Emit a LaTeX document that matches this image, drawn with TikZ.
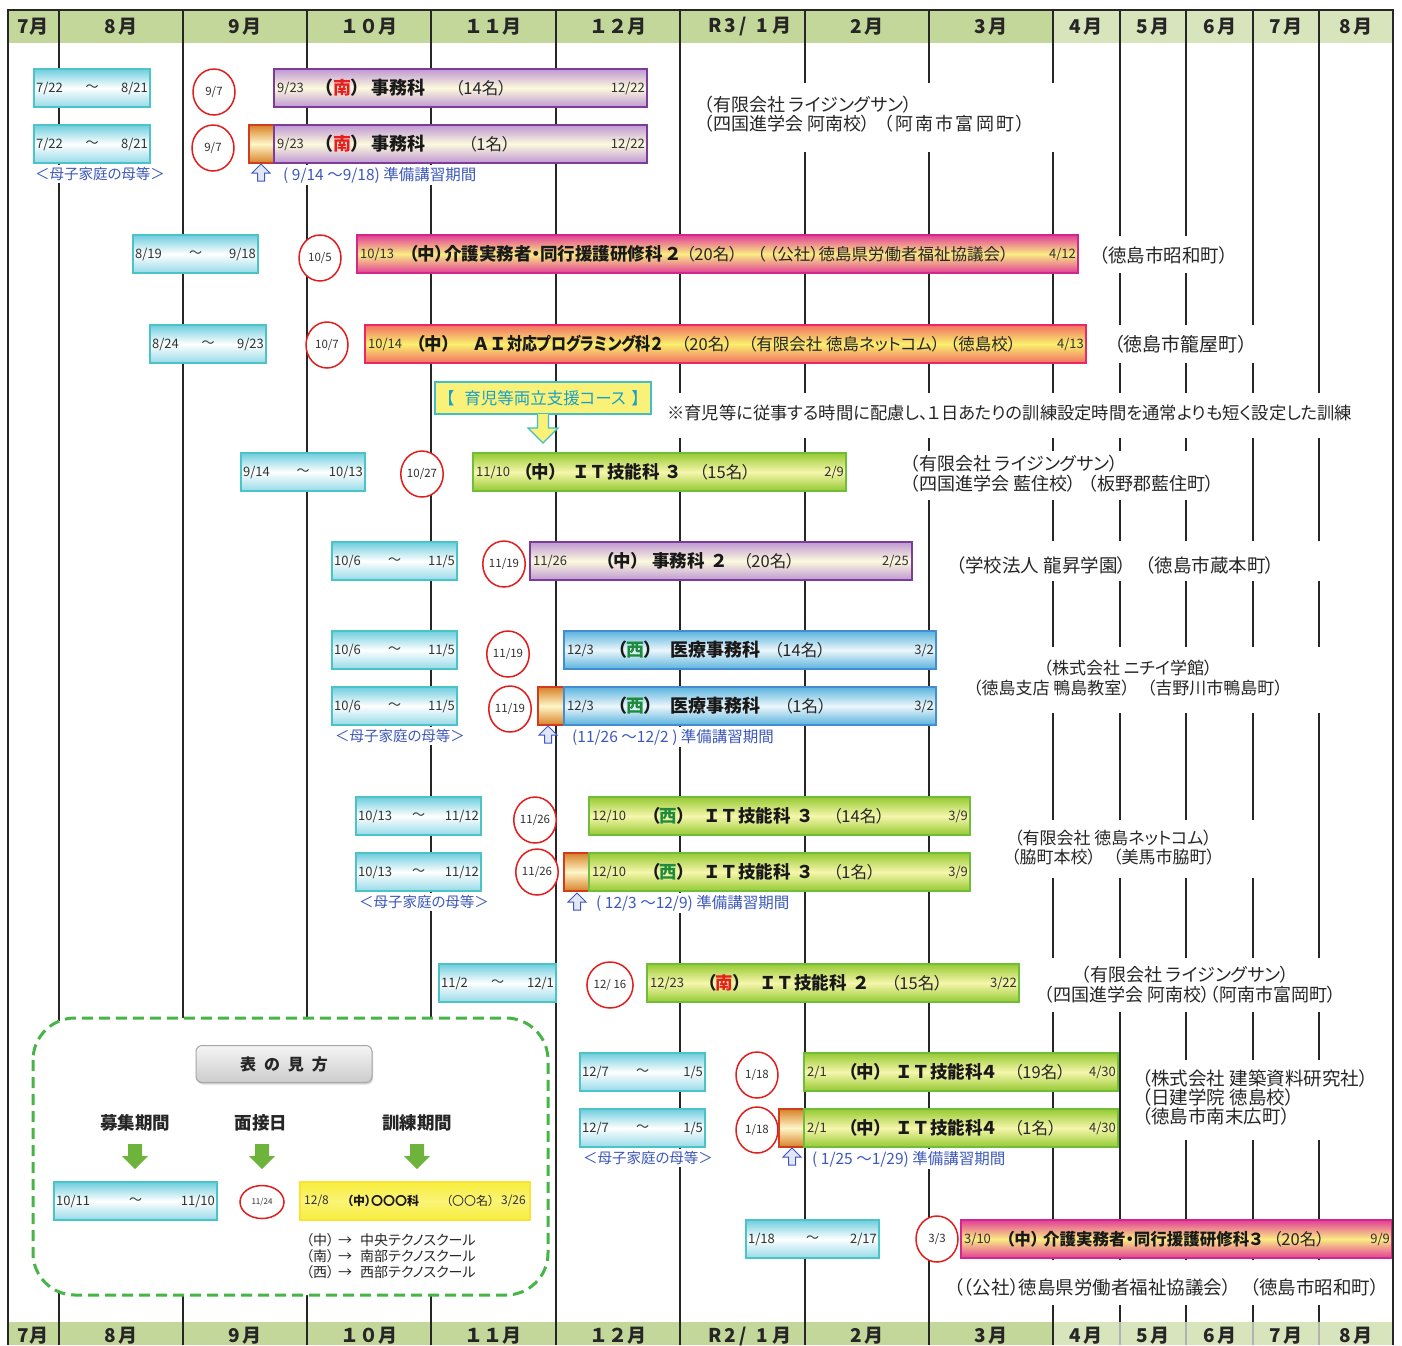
\documentclass[tikz,border=0pt]{standalone}
\usepackage{fontspec}
\usepackage{graphicx}
\setmainfont{Noto Sans CJK JP}[RawFeature={+palt}]
\newfontfamily\nop{Noto Sans CJK JP}
\usetikzlibrary{shapes.geometric,shadows}
\definecolor{recb}{RGB}{75,196,200}
\definecolor{rect}{RGB}{110,205,222}
\definecolor{recbt}{RGB}{150,218,232}
\definecolor{purb}{RGB}{125,60,152}
\definecolor{purt}{RGB}{192,152,212}
\definecolor{purm}{RGB}{252,250,222}
\definecolor{magb}{RGB}{210,40,140}
\definecolor{magt}{RGB}{226,62,152}
\definecolor{magm}{RGB}{250,236,130}
\definecolor{aib}{RGB}{235,40,100}
\definecolor{ait}{RGB}{242,112,100}
\definecolor{aim}{RGB}{250,240,110}
\definecolor{grb}{RGB}{110,190,60}
\definecolor{grt}{RGB}{150,202,50}
\definecolor{grm}{RGB}{246,246,172}
\definecolor{blb}{RGB}{70,140,210}
\definecolor{blt}{RGB}{90,180,222}
\definecolor{blm}{RGB}{236,246,251}
\definecolor{prb}{RGB}{210,60,30}
\definecolor{prt}{RGB}{215,130,40}
\definecolor{prm}{RGB}{255,246,200}
\definecolor{hdrdark}{RGB}{196,215,155}
\definecolor{hdrlight}{RGB}{216,228,188}
\definecolor{nanred}{RGB}{230,30,30}
\definecolor{seigreen}{RGB}{30,140,60}
\definecolor{noteblue}{RGB}{60,88,188}
\definecolor{menred}{RGB}{225,30,30}
\definecolor{txtgray}{RGB}{50,50,50}
\definecolor{ikcyan}{RGB}{65,190,200}
\definecolor{iktext}{RGB}{25,160,200}
\definecolor{ikyel}{RGB}{250,242,120}
\definecolor{leggreen}{RGB}{70,180,70}
\definecolor{arrgreen}{RGB}{110,180,60}
\definecolor{legyel}{RGB}{248,238,60}
\newcommand\fd{\fontsize{13}{14}\selectfont}
\newcommand\fm{\fontsize{17.5}{18}\selectfont\bfseries}
\newcommand\fc{\fontsize{16.5}{18}\selectfont}
\newcommand\fco{\fontsize{18}{19.5}\selectfont}
\newcommand\fnote{\fontsize{14.5}{16}\selectfont}
\newcommand\IT{{\nop ＩＴ}}
\tikzset{
 gridline/.style={line width=1.2, black!85},
 recbox/.style={draw=recb, line width=2.2, top color=rect, bottom color=recbt, middle color=white, minimum height=38, inner sep=0},
 purbar/.style={draw=purb, line width=2, top color=purt, bottom color=purt, middle color=purm, minimum height=38, inner sep=0},
 magbar/.style={draw=magb, line width=2, top color=magt, bottom color=magt, middle color=magm, minimum height=38, inner sep=0},
 aibar/.style={draw=aib, line width=2, top color=ait, bottom color=ait, middle color=aim, minimum height=38, inner sep=0},
 grbar/.style={draw=grb, line width=2, top color=grt, bottom color=grt, middle color=grm, minimum height=38, inner sep=0},
 blbar/.style={draw=blb, line width=2, top color=blt, bottom color=blt, middle color=blm, minimum height=38, inner sep=0},
 prepbox/.style={draw=prb, line width=1.5, top color=prt, bottom color=prt, middle color=prm, minimum height=38, inner sep=0},
 menc/.style={ellipse, draw=menred, line width=1.5, fill=white, minimum width=42, minimum height=46, inner sep=0, font=\fontsize{11.5}{12}\selectfont, text=txtgray},
 rdl/.style={anchor=west, inner sep=0, font=\fd, text=txtgray},
 rdr/.style={anchor=east, inner sep=0, font=\fd, text=txtgray},
 rdt/.style={inner sep=0, font=\fd, text=txtgray},
 ml/.style={anchor=west, inner sep=0, font=\fm, text=black!90},
 cl/.style={anchor=west, inner sep=0, font=\fc, text=black!85},
 comp/.style={inner sep=0, font=\fco, text=black!85},
 notetxt/.style={inner sep=2, fill=white, font=\fnote, text=noteblue},
 preptxt/.style={inner sep=2, fill=white, font=\fontsize{15.5}{16}\selectfont, text=noteblue, anchor=west},
 uparrow/.style={draw=noteblue, fill=noteblue!15, line width=1},
 hdr/.style={inner sep=0, font=\nop\bfseries\fontsize{19}{20}\selectfont, text=black!85},
}
\newcommand\recbx[6]{%
 \node[recbox, minimum width={#3-#2}] (#1) at ({(#2+#3)/2},#4) {};
 \node[rdl] (#1-a) at ([xshift=3pt]#1.west) {#5};
 \node[rdt] (#1-b) at (#1.center) {～};
 \node[rdr] (#1-c) at ([xshift=-3pt]#1.east) {#6};}
\newcommand\mencirc[4]{\node[menc] (#1) at (#2,#3) {#4};}
\newcommand\kbar[5]{\node[#2, minimum width={#4-#3}] (#1) at ({(#3+#4)/2},#5) {};}
\newcommand\prepbx[4]{\node[prepbox, minimum width={#3-#2}] (#1) at ({(#2+#3)/2},#4) {};}
\newcommand\upar[3]{\coordinate (#1) at (#2,#3);
 \filldraw[uparrow, shift={(#1)}] (-3.5,8) -- (-3.5,0) -- (-9,0) -- (0,-9) -- (9,0) -- (3.5,0) -- (3.5,8) -- cycle;}
\newcommand\garr[2]{\coordinate (#1) at (#2,1144);
 \fill[arrgreen, shift={(#1)}] (-7,0) -- (-7,12) -- (-13,12) -- (0,25) -- (13,12) -- (7,12) -- (7,0) -- cycle;}
\newcommand\mhdr[4]{\node[hdr] (#1) at (#2,#3) {#4};}
\begin{document}
\begin{tikzpicture}[x=1pt,y=-1pt]
\useasboundingbox (0,0) rectangle (1402,1345);
\fill[white] (0,0) rectangle (1402,1345);
% headers
\fill[hdrdark] (8,10) rectangle (1053,43);
\fill[hdrlight] (1053,10) rectangle (1393,43);
\fill[hdrdark] (8,1322) rectangle (1053,1345);
\fill[hdrlight] (1053,1322) rectangle (1393,1345);
\foreach \x in {59,183,307,431,556,680,805,929,1053,1120,1186,1253,1319}
  \draw[gridline] (\x,10) -- (\x,1345);
\foreach \x in {1120,1186,1253,1319}
  \draw[gray!60, line width=1.2] (\x,1322) -- (\x,1345);
\mhdr{ht1}{33}{27}{7月}
\mhdr{ht2}{121}{27}{8\kern3pt月}
\mhdr{ht3}{245}{27}{9\kern3pt月}
\mhdr{ht4}{369}{27}{１０月}
\mhdr{ht5}{493}{27}{１１月}
\mhdr{ht6}{618}{27}{１２月}
\mhdr{ht7}{750}{27}{R\kern3pt3\kern3pt/\kern10pt1\kern4pt月}
\mhdr{ht8}{867}{27}{2\kern3pt月}
\mhdr{ht9}{991}{27}{3\kern3pt月}
\mhdr{ht10}{1086}{27}{4\kern2pt月}
\mhdr{ht11}{1153}{27}{5\kern2pt月}
\mhdr{ht12}{1220}{27}{6\kern2pt月}
\mhdr{ht13}{1286}{27}{7\kern2pt月}
\mhdr{ht14}{1356}{27}{8\kern2pt月}
\mhdr{hb1}{33}{1336}{7月}
\mhdr{hb2}{121}{1336}{8\kern3pt月}
\mhdr{hb3}{245}{1336}{9\kern3pt月}
\mhdr{hb4}{369}{1336}{１０月}
\mhdr{hb5}{493}{1336}{１１月}
\mhdr{hb6}{618}{1336}{１２月}
\mhdr{hb7}{750}{1336}{R\kern3pt2\kern3pt/\kern10pt1\kern4pt月}
\mhdr{hb8}{867}{1336}{2\kern3pt月}
\mhdr{hb9}{991}{1336}{3\kern3pt月}
\mhdr{hb10}{1086}{1336}{4\kern2pt月}
\mhdr{hb11}{1153}{1336}{5\kern2pt月}
\mhdr{hb12}{1220}{1336}{6\kern2pt月}
\mhdr{hb13}{1286}{1336}{7\kern2pt月}
\mhdr{hb14}{1356}{1336}{8\kern2pt月}
% white backgrounds of company texts
\fill[white] (700,83) rectangle (1060,152);
\fill[white] (1095,236) rectangle (1235,273);
\fill[white] (1110,325) rectangle (1260,363);
\fill[white] (662,393) rectangle (1360,438);
\fill[white] (905,451) rectangle (1235,500);
\fill[white] (950,541) rectangle (1325,581);
\fill[white] (970,647) rectangle (1325,713);
\fill[white] (1000,820) rectangle (1260,878);
\fill[white] (1040,958) rectangle (1345,1012);
\fill[white] (1138,1060) rectangle (1372,1140);
\fill[white] (950,1260) rectangle (1385,1305);
% company texts
\node[comp, anchor=west, align=left] (c1) at (704,114) {（有限会社 ライジングサン）\\（四国進学会 阿南校）\hspace{14pt}{\addfontfeature{LetterSpace=12}（阿南市富岡町）}};
\node[comp, anchor=west, font=\fontsize{18.5}{19.5}\selectfont] (c2) at (1099,255) {（徳島市昭和町）};
\node[comp, anchor=west, font=\fontsize{19}{19.5}\selectfont] (c3) at (1114,344) {（徳島市籠屋町）};
\node[comp, anchor=west, align=left] (c4) at (910,473.5) {（有限会社 ライジングサン）\\（四国進学会 藍住校）\hspace{12pt}（板野郡藍住町）};
\node[comp, anchor=west, font=\fontsize{18.5}{19.5}\selectfont] (c5) at (956,565) {（学校法人 龍昇学園）　（徳島市蔵本町）};
\node[comp, align=center, font=\fontsize{17}{19.5}\selectfont] (c6) at (1128,678) {（株式会社 ニチイ学館）\\（徳島支店 鴨島教室）　（吉野川市鴨島町）};
\node[comp, align=center, font=\fontsize{17}{19.5}\selectfont] (c7) at (1113,847.5) {（有限会社 徳島ネットコム）\\（脇町本校）　（美馬市脇町）};
\node[comp, anchor=west, align=left] (c8) at (1044,984.5) {\hspace*{37pt}（有限会社 ライジングサン）\\（四国進学会 阿南校）（阿南市富岡町）};
\node[comp, anchor=west, align=left, font=\fontsize{18.5}{19}\selectfont] (c9) at (1142,1097) {（株式会社 建築資料研究社）\\（日建学院 徳島校）\\（徳島市南末広町）};
\node[comp, anchor=west, font=\fontsize{18.5}{19.5}\selectfont] (c10) at (954,1287) {（（公社）徳島県労働者福祉協議会）　（徳島市昭和町）};
% legend box
\draw[leggreen, line width=3, dash pattern=on 11pt off 6pt, rounded corners=42, fill=white] (33,1018) rectangle (548,1295);
% ---- Row 1
\recbx{r1}{34}{150}{88}{7/22}{8/21}
\mencirc{m1}{214}{92}{9/7}
\kbar{t1}{purbar}{274}{647}{88}
\node[rdl] (t1a) at (277,88) {9/23};
\node[ml, font=\fontsize{18}{18}\selectfont\bfseries] (t1b) at (324,88) {（\textcolor{nanred}{南}）\hspace{11pt}事務科};
\node[cl] (t1c) at (455,88) {（14名）};
\node[rdr] (t1d) at (645,88) {12/22};
% ---- Row 2
\recbx{r2}{34}{150}{144}{7/22}{8/21}
\mencirc{m2}{213}{148}{9/7}
\prepbx{p2}{249}{274}{144}
\kbar{t2}{purbar}{274}{647}{144}
\node[rdl] (t2a) at (277,144) {9/23};
\node[ml, font=\fontsize{18}{18}\selectfont\bfseries] (t2b) at (324,144) {（\textcolor{nanred}{南}）\hspace{11pt}事務科};
\node[cl] (t2c) at (468,144) {（1名）};
\node[rdr] (t2d) at (645,144) {12/22};
\node[notetxt] (n2) at (100,174) {＜母子家庭の母等＞};
\upar{u2}{261}{173}
\node[preptxt] (q2) at (281,175) {( 9/14 ～9/18) 準備講習期間};
% ---- Row 3
\recbx{r3}{133}{258}{254}{8/19}{9/18}
\mencirc{m3}{320}{258}{10/5}
\kbar{t3}{magbar}{357}{1078}{254}
\node[rdl] (t3a) at (360,254) {10/13};
\node[ml] (t3b) at (409,254) {（中）介護実務者・同行援護研修科 ２};
\node[cl] (t3c) at (686,254) {（20名）};
\node[cl] (t3e) at (757,254) {（ （公社）徳島県労働者福祉協議会）};
\node[rdr] (t3d) at (1076,254) {4/12};
% ---- Row 4
\recbx{r4}{150}{266}{344}{8/24}{9/23}
\mencirc{m4}{327}{345}{10/7}
\kbar{t4}{aibar}{365}{1086}{344}
\node[rdl] (t4a) at (368,344) {10/14};
\node[ml] (t4b) at (416,344) {（中）};
\node[ml] (t4f) at (472,344) {{\nop ＡＩ}\scalebox{0.86}[1]{対応プログラミング科２}};
\node[cl] (t4c) at (681,344) {（20名）};
\node[cl] (t4e) at (748,344) {（有限会社 徳島ネットコム）\hspace{10pt}（徳島校）};
\node[rdr] (t4d) at (1084,344) {4/13};
% ---- Row 5
\node[draw=ikcyan, line width=1.5, fill=ikyel, minimum width=216, minimum height=32, inner sep=0, font=\fontsize{16.5}{18}\selectfont, text=iktext] (ik) at (543,398) {【\hspace{10pt}育児等両立支援コース\hspace{6pt}】};
\filldraw[draw=ikcyan, fill=ikyel, line width=1.2] (537.5,414) -- (537.5,428) -- (528,428) -- (543,443) -- (558,428) -- (548.5,428) -- (548.5,414);
\node[comp, anchor=west, font=\fontsize{17.3}{18}\selectfont] (nt) at (667,413) {※育児等に従事する時間に配慮し、１日あたりの訓練設定時間を通常よりも短く設定した訓練};
% ---- Row 6
\recbx{r6}{241}{365}{472}{9/14}{10/13}
\mencirc{m6}{422}{474}{10/27}
\kbar{t6}{grbar}{473}{846}{472}
\node[rdl] (t6a) at (476,472) {11/10};
\node[ml] (t6b) at (523,472) {（中）\hspace{14pt}\IT 技能科\hspace{7pt}３};
\node[cl] (t6c) at (699,472) {（15名）};
\node[rdr] (t6d) at (844,472) {2/9};
% ---- Row 7
\recbx{r7}{332}{457}{561}{10/6}{11/5}
\mencirc{m7}{504}{564}{11/19}
\kbar{t7}{purbar}{530}{912}{561}
\node[rdl] (t7a) at (533,561) {11/26};
\node[ml] (t7b) at (605,561) {（中）\hspace{12pt}事務科\hspace{8pt}２};
\node[cl] (t7c) at (743,561) {（20名）};
\node[rdr] (t7d) at (909,561) {2/25};
% ---- Row 8
\recbx{r8}{332}{457}{650}{10/6}{11/5}
\mencirc{m8}{508}{654}{11/19}
\kbar{t8}{blbar}{564}{936}{650}
\node[rdl] (t8a) at (567,650) {12/3};
\node[ml, font=\fontsize{18}{18}\selectfont\bfseries] (t8b) at (617,650) {（\textcolor{seigreen}{西}）\hspace{17pt}医療事務科};
\node[cl] (t8c) at (774,650) {（14名）};
\node[rdr] (t8d) at (934,650) {3/2};
% ---- Row 9
\recbx{r9}{332}{457}{706}{10/6}{11/5}
\mencirc{m9}{510}{709}{11/19}
\prepbx{p9}{538}{564}{706}
\kbar{t9}{blbar}{564}{936}{706}
\node[rdl] (t9a) at (567,706) {12/3};
\node[ml, font=\fontsize{18}{18}\selectfont\bfseries] (t9b) at (617,706) {（\textcolor{seigreen}{西}）\hspace{17pt}医療事務科};
\node[cl] (t9c) at (784,706) {（1名）};
\node[rdr] (t9d) at (934,706) {3/2};
\node[notetxt] (n9) at (400,736) {＜母子家庭の母等＞};
\upar{u9}{548}{735}
\node[preptxt] (q9) at (570,737) {(11/26 ～12/2 ) 準備講習期間};
% ---- Row 10
\recbx{r10}{356}{481}{816}{10/13}{11/12}
\mencirc{m10}{535}{820}{11/26}
\kbar{t10}{grbar}{589}{970}{816}
\node[rdl] (t10a) at (592,816) {12/10};
\node[ml] (t10b) at (651,816) {（\textcolor{seigreen}{西}）\hspace{17pt}\IT 技能科\hspace{8pt}３};
\node[cl] (t10c) at (833,816) {（14名）};
\node[rdr] (t10d) at (968,816) {3/9};
% ---- Row 11
\recbx{r11}{356}{481}{872}{10/13}{11/12}
\mencirc{m11}{537}{872}{11/26}
\prepbx{p11}{564}{589}{872}
\kbar{t11}{grbar}{589}{970}{872}
\node[rdl] (t11a) at (592,872) {12/10};
\node[ml] (t11b) at (651,872) {（\textcolor{seigreen}{西}）\hspace{17pt}\IT 技能科\hspace{8pt}３};
\node[cl] (t11c) at (833,872) {（1名）};
\node[rdr] (t11d) at (968,872) {3/9};
\node[notetxt] (n11) at (424,902) {＜母子家庭の母等＞};
\upar{u11}{577}{902}
\node[preptxt] (q11) at (594,903) {( 12/3 ～12/9) 準備講習期間};
% ---- Row 12
\recbx{r12}{439}{556}{983}{11/2}{12/1}
\mencirc{m12}{610}{985}{12/ 16}
\kbar{t12}{grbar}{647}{1019}{983}
\node[rdl] (t12a) at (650,983) {12/23};
\node[ml] (t12b) at (707,983) {（\textcolor{nanred}{南}）\hspace{17pt}\IT 技能科\hspace{8pt}２};
\node[cl] (t12c) at (891,983) {（15名）};
\node[rdr] (t12d) at (1017,983) {3/22};
% ---- Row 13
\recbx{r13}{580}{705}{1072}{12/7}{1/5}
\mencirc{m13}{757}{1075}{1/18}
\kbar{t13}{grbar}{804}{1118}{1072}
\node[rdl] (t13a) at (807,1072) {2/1};
\node[ml] (t13b) at (848,1072) {（中）\hspace{12pt}\IT 技能科４};
\node[cl] (t13c) at (1014,1072) {（19名）};
\node[rdr] (t13d) at (1116,1072) {4/30};
% ---- Row 14
\recbx{r14}{580}{705}{1128}{12/7}{1/5}
\mencirc{m14}{757}{1130}{1/18}
\prepbx{p14}{779}{804}{1128}
\kbar{t14}{grbar}{804}{1118}{1128}
\node[rdl] (t14a) at (807,1128) {2/1};
\node[ml] (t14b) at (848,1128) {（中）\hspace{12pt}\IT 技能科４};
\node[cl] (t14c) at (1014,1128) {（1名）};
\node[rdr] (t14d) at (1116,1128) {4/30};
\node[notetxt] (n14) at (648,1158) {＜母子家庭の母等＞};
\upar{u14}{792}{1157}
\node[preptxt] (q14) at (810,1159) {( 1/25 ～1/29) 準備講習期間};
% ---- Row 15
\recbx{r15}{746}{879}{1239}{1/18}{2/17}
\mencirc{m15}{937}{1239}{3/3}
\kbar{t15}{magbar}{961}{1392}{1239}
\node[rdl] (t15a) at (964,1239) {3/10};
\node[ml, font=\fontsize{16.5}{18}\selectfont\bfseries] (t15b) at (1006,1239) {（中）\hspace{4pt}介護実務者・同行援護研修科３};
\node[cl] (t15c) at (1273,1239) {（20名）};
\node[rdr] (t15d) at (1390,1239) {9/9};
% ---- Legend contents
\node[draw=gray!70, line width=1, rounded corners=6, top color=gray!8, bottom color=gray!40, minimum width=176, minimum height=37, inner sep=0, drop shadow={opacity=0.3, shadow xshift=1pt, shadow yshift=-2pt}, font=\fontsize{16}{18}\selectfont\bfseries, text=black!85] (btn) at (284,1064) {表\hspace{8pt}の\hspace{8pt}見\hspace{8pt}方};
\node[inner sep=0, font=\fontsize{17.5}{18}\selectfont\bfseries, text=black!85] (lg1) at (135,1123) {募集期間};
\node[inner sep=0, font=\fontsize{17.5}{18}\selectfont\bfseries, text=black!85] (lg2) at (261,1123) {面接日};
\node[inner sep=0, font=\fontsize{17.5}{18}\selectfont\bfseries, text=black!85] (lg3) at (417,1123) {訓練期間};
\garr{ga1}{135}
\garr{ga2}{262}
\garr{ga3}{417}
\recbx{lr}{54}{217}{1201}{10/11}{11/10}
\node[ellipse, draw=menred, line width=1.5, fill=white, minimum width=44, minimum height=33, inner sep=0, font=\fontsize{8}{9}\selectfont, text=txtgray] (lm) at (262,1202) {11/24};
\node[draw=legyel!90!orange, line width=1.5, top color=legyel, bottom color=legyel, middle color=legyel!70!white, minimum width=230, minimum height=38, inner sep=0] (lt) at (415,1201) {};
\node[rdl, font=\fontsize{12}{13}\selectfont] (lta) at (304,1201) {12/8};
\node[ml, font=\fontsize{12}{13}\selectfont\bfseries] (ltb) at (347,1201) {（中）〇〇〇科};
\node[cl, font=\fontsize{12}{13}\selectfont] (ltc) at (446,1201) {（〇〇名）};
\node[rdr, font=\fontsize{12}{13}\selectfont] (ltd) at (526,1201) {3/26};
\node[inner sep=0, anchor=west, align=left, font=\fontsize{14}{16.3}\selectfont, text=black!85] (ls) at (306,1256) {（中）\hspace{4pt}→\hspace{8pt}中央テクノスクール\\（南）\hspace{4pt}→\hspace{8pt}南部テクノスクール\\（西）\hspace{4pt}→\hspace{8pt}西部テクノスクール};
% frame
\draw[black!85, line width=2.5] (8,1345) -- (8,10) -- (1393,10) -- (1393,1345);
\end{tikzpicture}
\end{document}
